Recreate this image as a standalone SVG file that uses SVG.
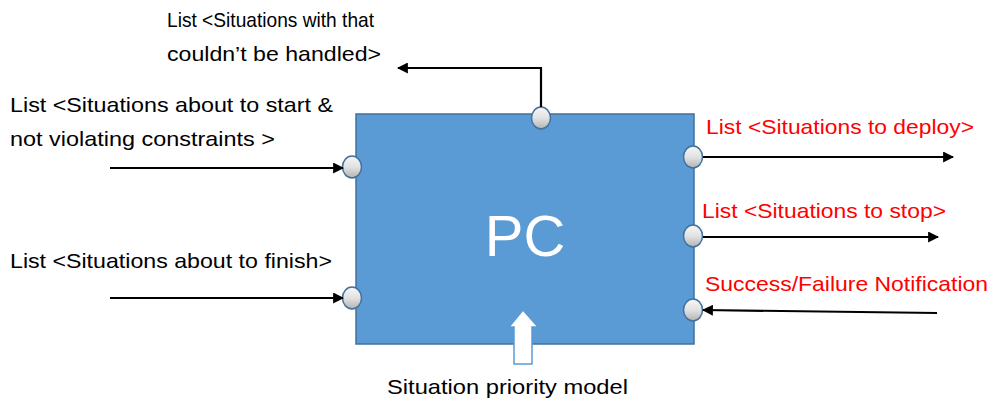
<svg xmlns="http://www.w3.org/2000/svg" width="993" height="405" viewBox="0 0 993 405">
<defs>
<linearGradient id="pg" x1="0" y1="0" x2="0" y2="1">
<stop offset="0" stop-color="#f7f7f7"/>
<stop offset="0.5" stop-color="#e2e2e2"/>
<stop offset="1" stop-color="#b3b3b3"/>
</linearGradient>
<marker id="ah" viewBox="0 0 10 10" refX="9" refY="5" markerWidth="5" markerHeight="5" orient="auto" markerUnits="strokeWidth">
<path d="M0,0 L10,5 L0,10 z" fill="#000"/>
</marker>
<style>
.t{font-family:"Liberation Sans",Arial,sans-serif;font-size:21px;fill:#000}
.r{fill:#ff0000}
.c{stroke:#000;stroke-width:2.2;fill:none;marker-end:url(#ah)}
.port{fill:url(#pg);stroke:#41719c;stroke-width:1.5}
</style>
</defs>
<rect width="993" height="405" fill="#fff"/>
<g id="pc">
<rect x="356" y="114" width="338" height="230" fill="#5b9bd5" stroke="#41719c" stroke-width="1.5"/>
<text x="525" y="256" text-anchor="middle" style="font-family:'Liberation Sans',Arial,sans-serif;font-size:58px;fill:#fff">PC</text>
</g>
<g id="ports">
<ellipse class="port" cx="352" cy="167" rx="9.5" ry="11"/>
<ellipse class="port" cx="352" cy="298" rx="9.5" ry="11"/>
<ellipse class="port" cx="541" cy="118" rx="9.5" ry="11"/>
<ellipse class="port" cx="693" cy="157" rx="9.5" ry="11"/>
<ellipse class="port" cx="693" cy="236" rx="9.5" ry="11"/>
<ellipse class="port" cx="693" cy="310" rx="9.5" ry="11"/>
</g>
<g id="connectors">
<path class="c" d="M541,107 V68 H398"/>
<path class="c" d="M110,168 H343"/>
<path class="c" d="M110,298 H343"/>
<path class="c" d="M703,157 H953"/>
<path class="c" d="M703,237 H938"/>
<path class="c" d="M937,313 L703,310"/>
</g>
<g id="priority-arrow">
<path d="M523,310 L538,327 L532,327 L532,364 L514,364 L514,327 L509,327 Z" fill="#fff" stroke="#5b9bd5" stroke-width="1.5"/>
</g>
<g id="labels">
<text class="t" x="167" y="27" textLength="207" lengthAdjust="spacingAndGlyphs">List &lt;Situations with that</text>
<text class="t" x="167" y="61" textLength="214" lengthAdjust="spacingAndGlyphs">couldn’t be handled&gt;</text>
<text class="t" x="10" y="112" textLength="323" lengthAdjust="spacingAndGlyphs">List &lt;Situations about to start &amp;</text>
<text class="t" x="10" y="146" textLength="265" lengthAdjust="spacingAndGlyphs">not violating constraints &gt;</text>
<text class="t" x="10" y="268" textLength="322" lengthAdjust="spacingAndGlyphs">List &lt;Situations about to finish&gt;</text>
<text class="t" x="387" y="394" textLength="241" lengthAdjust="spacingAndGlyphs">Situation priority model</text>
<text class="t r" x="706" y="134" textLength="268" lengthAdjust="spacingAndGlyphs">List &lt;Situations to deploy&gt;</text>
<text class="t r" x="702" y="218" textLength="244" lengthAdjust="spacingAndGlyphs">List &lt;Situations to stop&gt;</text>
<text class="t r" x="705" y="291" textLength="283" lengthAdjust="spacingAndGlyphs">Success/Failure  Notification</text>
</g>
</svg>
